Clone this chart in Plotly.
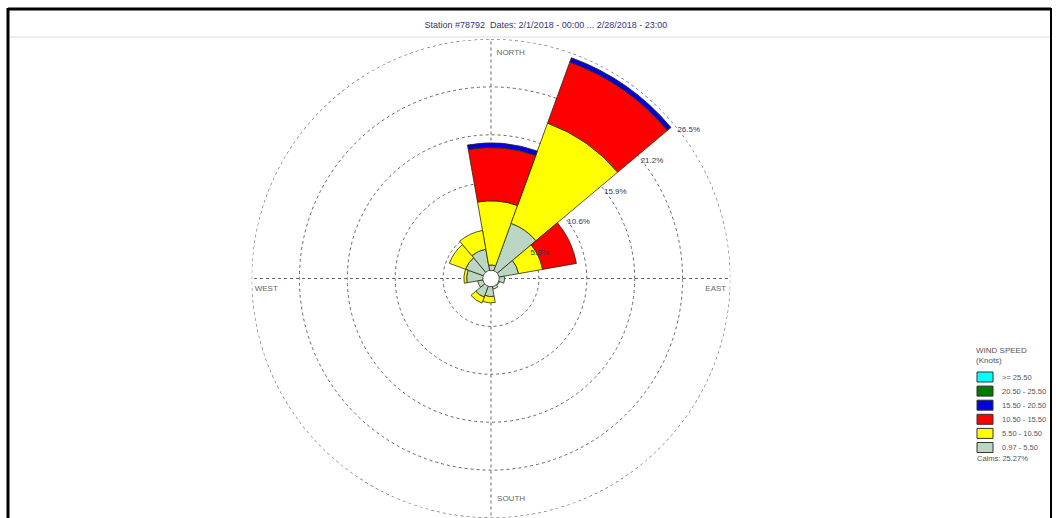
import numpy as np
import plotly.graph_objects as go

# %% data
title_text = "Station #78792  Dates: 2/1/2018 - 00:00 ... 2/28/2018 - 23:00"
# sector centres (compass degrees), 30 degree sectors as drawn in the rose
angles = [5, 35, 65, 95, 125, 155, 185, 215, 245, 275, 305, 335]

# cumulative frequency (%) at the top of each speed class, per sector
cum_097_550 = [1.5, 6.5, 3.1, 1.5, 1.0, 1.2, 2.0, 2.2, 1.5, 2.7, 3.0, 3.3]
cum_550_1050 = [8.6, 18.3, 5.8, 1.5, 1.0, 1.2, 2.7, 2.9, 1.5, 3.0, 4.9, 5.4]
cum_1050_1550 = [14.5, 25.5, 9.6, 1.5, 1.0, 1.2, 2.7, 2.9, 1.5, 3.0, 4.9, 5.4]
cum_1550_2050 = [15.0, 26.0, 9.6, 1.5, 1.0, 1.2, 2.7, 2.9, 1.5, 3.0, 4.9, 5.4]
cum_2050_2550 = cum_1550_2050
cum_ge_2550 = cum_1550_2050
hole_pct = 0.9

bin_names = ["0.97 - 5.50", "5.50 - 10.50", "10.50 - 15.50",
             "15.50 - 20.50", "20.50 - 25.50", ">= 25.50"]
bin_colors = ["#BCD6C4", "#FFFF00", "#FF0000", "#0000E0", "#007A00", "#00FFFF"]
ring_vals = [5.3, 10.6, 15.9, 21.2, 26.5]
compass_text = ["NORTH", "EAST", "SOUTH", "WEST"]
compass_theta = [5, 92.8, 174.8, 267.2]
compass_r = [25.1, 24.9, 24.5, 24.9]
calms = "Calms: 25.27%"

W, H = 1060, 518
font = "Liberation Sans"
grid_col = "#666666"

# %% figure
fig = go.Figure()
tops = [cum_097_550, cum_550_1050, cum_1050_1550, cum_1550_2050, cum_2050_2550, cum_ge_2550]
prev = np.full(len(angles), hole_pct)
for name, col, top in zip(bin_names, bin_colors, tops):
    top = np.array(top)
    fig.add_trace(go.Barpolar(r=top - prev, base=prev, theta=angles, name=name,
                              width=30, marker_color=col, showlegend=False,
                              marker_line=dict(color="#2b2b10", width=0.8)))
    prev = np.maximum(prev, top)

# outer ring (dotted like the other rings)
ring_theta = np.arange(0, 361, 1)
fig.add_trace(go.Scatterpolar(r=np.full(ring_theta.size, ring_vals[-1]), theta=ring_theta,
                              mode="lines", line=dict(color=grid_col, width=1.2, dash="dot"),
                              showlegend=False, hoverinfo="skip"))

# white hole in the centre
fig.add_trace(go.Scatterpolar(r=[0], theta=[0], mode="markers",
                              marker=dict(size=15, color="white", line=dict(width=0)),
                              showlegend=False, hoverinfo="skip"))

# compass labels inside the outer ring
fig.add_trace(go.Scatterpolar(r=compass_r, theta=compass_theta,
                              mode="text", text=compass_text, textposition="middle center",
                              textfont=dict(size=8, color="#666666", family=font),
                              showlegend=False, hoverinfo="skip"))

fig.update_layout(
    width=W, height=H,
    paper_bgcolor="white",
    margin=dict(l=0, r=0, t=0, b=0),
    barmode="overlay",
    polar=dict(
        domain=dict(x=[0.2358, 0.6906], y=[0.0, 0.9247]),
        bgcolor="white",
        radialaxis=dict(range=[0, 26.5], tickvals=ring_vals,
                        ticktext=[f"{v}%" for v in ring_vals],
                        angle=40, tickangle=40, showline=False, ticks="",
                        tickfont=dict(size=8, color="#333355", family=font),
                        gridcolor=grid_col, griddash="dot", gridwidth=1),
        angularaxis=dict(rotation=90, direction="clockwise",
                         tickvals=[0, 90, 180, 270], showticklabels=False, ticks="",
                         showline=False, gridcolor=grid_col, griddash="dot", gridwidth=1),
    ),
    title=dict(text=title_text, x=0.515, xanchor="center", y=1 - 25 / H, yanchor="middle",
               font=dict(size=9, color="#33337a", family=font)),
)

# legend box drawn at the right, one row per speed class (highest first)
fig.add_annotation(text="WIND SPEED<br>(Knots)", xref="paper", yref="paper",
                   x=974 / W, y=1 - 344 / H, xanchor="left", yanchor="top", align="left",
                   showarrow=False, font=dict(size=8, color="#555555", family=font))
for i, (name, col) in enumerate(zip(bin_names[::-1], bin_colors[::-1])):
    yc = 377 + 14.1 * i
    fig.add_shape(type="rect", xref="paper", yref="paper",
                  x0=977 / W, x1=993 / W, y0=1 - (yc - 5) / H, y1=1 - (yc + 5) / H,
                  fillcolor=col, line=dict(color="#333333", width=1))
    fig.add_annotation(text=name, xref="paper", yref="paper", x=1000 / W, y=1 - yc / H,
                       xanchor="left", yanchor="middle", showarrow=False,
                       font=dict(size=7.5, color="#555555", family=font))
fig.add_annotation(text=calms, xref="paper", yref="paper", x=975 / W, y=1 - 458 / H,
                   xanchor="left", yanchor="middle", showarrow=False,
                   font=dict(size=7.5, color="#555555", family=font))

# window frame and title separator
fig.add_shape(type="line", xref="paper", yref="paper", x0=0.009, x1=0.992, y0=1 - 37 / H, y1=1 - 37 / H,
              line=dict(color="#dddddd", width=1))
fig.add_shape(type="line", xref="paper", yref="paper", x0=8 / W, x1=8 / W, y0=0.0, y1=1 - 8 / H,
              line=dict(color="black", width=3))
fig.add_shape(type="line", xref="paper", yref="paper", x0=8 / W, x1=1051 / W, y0=1 - 9 / H, y1=1 - 9 / H,
              line=dict(color="black", width=3))
fig.add_shape(type="line", xref="paper", yref="paper", x0=1051 / W, x1=1051 / W, y0=0.0, y1=1 - 8 / H,
              line=dict(color="black", width=2))

fig.write_html("out.html", config={"displayModeBar": False},
               post_script="document.body.style.margin='0px';")
